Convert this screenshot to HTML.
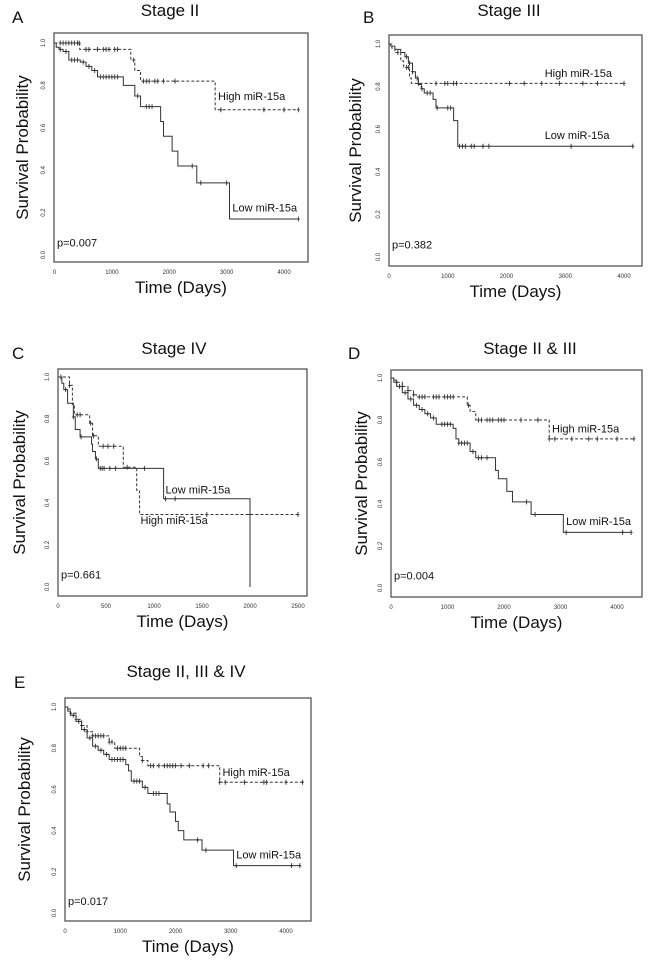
<!DOCTYPE html>
<html><head><meta charset="utf-8">
<style>
html,body{margin:0;padding:0;background:#fff;}
svg{display:block;font-family:"Liberation Sans",Arial,sans-serif;}
</style></head>
<body>
<svg id="fig" width="650" height="967" viewBox="0 0 650 967" xmlns="http://www.w3.org/2000/svg"></svg>
<script>
// ---- Panel A: Stage II ----
const A_high_t=[0,440,1330,1400,1500,2800,4250];
const A_high_s=[1,0.97,0.92,0.87,0.82,0.685,0.685];
const A_high_c=[100,150,200,250,300,350,400,430,550,600,750,850,900,950,1050,1100,1380,1550,1600,1650,1750,1800,1900,2100,2900,3650,4000,4250];
const A_low_t=[0,30,80,150,250,450,550,650,750,1200,1400,1500,1850,1900,2050,2150,2480,3050,4250];
const A_low_s=[1,0.98,0.97,0.96,0.92,0.91,0.89,0.87,0.84,0.80,0.75,0.70,0.63,0.56,0.49,0.42,0.34,0.17,0.17];
const A_low_c=[100,200,300,350,400,500,600,700,800,850,900,950,1000,1050,1100,1450,1600,1650,1700,2400,2550,3000,4250];
// ---- Panel B: Stage III ----
const B_high_t=[0,50,100,200,250,350,380,4000];
const B_high_s=[1,0.98,0.96,0.92,0.89,0.84,0.815,0.815];
const B_high_c=[150,300,330,500,800,950,1000,1100,1150,2050,2300,2600,2900,3300,3550,4000];
const B_low_t=[0,30,100,200,270,330,400,450,500,550,600,750,800,1100,1170,4150];
const B_low_s=[1,0.99,0.975,0.96,0.94,0.91,0.87,0.84,0.81,0.79,0.77,0.74,0.70,0.64,0.52,0.52];
const B_low_c=[300,350,400,480,560,650,700,820,1000,1050,1200,1250,1300,1400,1450,1600,1700,3100,4150];
// ---- Panel C: Stage IV ----
const C_high_t=[0,120,150,170,330,360,420,680,820,850,2500];
const C_high_s=[1,0.96,0.87,0.82,0.78,0.72,0.67,0.57,0.46,0.345,0.345];
const C_high_c=[120,200,230,340,370,470,520,580,720,1550,2000,2500];
const C_low_t=[0,40,60,100,160,180,230,350,360,390,420,1100,2000,2000];
const C_low_s=[1,0.97,0.94,0.875,0.81,0.75,0.715,0.68,0.645,0.61,0.565,0.42,0.0,0.0];
const C_low_c=[30,80,160,240,400,440,460,480,540,600,900,1120,1220];
// ---- Panel D: Stage II & III ----
const D_high_t=[0,50,100,200,300,400,450,1350,1400,1500,2800,4300];
const D_high_s=[1,0.99,0.98,0.96,0.94,0.92,0.91,0.87,0.84,0.80,0.71,0.71];
const D_high_c=[100,200,300,400,500,550,600,750,800,850,950,1000,1050,1100,1370,1550,1600,1700,1750,1800,1900,1950,2000,2300,2600,2800,2900,3200,3500,3650,4000,4300];
const D_low_t=[0,50,100,200,300,400,500,600,700,800,1100,1150,1200,1400,1500,1850,1900,2050,2150,2480,3050,4250];
const D_low_s=[1,0.98,0.96,0.93,0.90,0.87,0.85,0.83,0.81,0.78,0.76,0.71,0.69,0.65,0.62,0.56,0.52,0.46,0.41,0.35,0.265,0.265];
const D_low_c=[150,250,350,450,550,650,750,900,950,1000,1050,1200,1250,1300,1350,1450,1550,1600,1700,2400,2550,3100,4100,4250];
// ---- Panel E: Stage II, III & IV ----
const E_high_t=[0,50,100,200,300,400,500,800,900,1350,1400,1500,2800,4300];
const E_high_s=[1,0.99,0.97,0.94,0.91,0.88,0.86,0.83,0.80,0.76,0.74,0.715,0.635,0.635];
const E_high_c=[100,200,300,400,500,550,600,650,700,800,850,950,1000,1050,1100,1400,1550,1600,1700,1800,1850,1900,1950,2000,2100,2250,2500,2600,2800,2900,3250,3600,3650,4000,4300];
const E_low_t=[0,50,100,200,300,400,500,600,700,800,1100,1150,1200,1400,1500,1850,1900,2000,2050,2150,2480,3050,4250];
const E_low_s=[1,0.98,0.96,0.93,0.89,0.85,0.81,0.79,0.77,0.745,0.72,0.69,0.64,0.61,0.58,0.53,0.49,0.445,0.40,0.355,0.305,0.23,0.23];
const E_low_c=[150,250,350,450,550,650,750,850,900,950,1000,1050,1250,1300,1350,1450,1600,1650,1700,2400,2550,3100,4100,4250];
// tick labels
const xTicks4000=[0,1000,2000,3000,4000];
const xTicks2500=[0,500,1000,1500,2000,2500];
const yTicks=[0,0.2,0.4,0.6,0.8,1.0];

const NS="http://www.w3.org/2000/svg";
const svg=document.getElementById('fig');
function mk(tag,attrs,parent,text){const e=document.createElementNS(NS,tag);for(const k in attrs)e.setAttribute(k,attrs[k]);if(text!==undefined)e.textContent=text;(parent||svg).appendChild(e);return e;}

function stepAt(t,T,S){let s=S[0];for(let i=0;i<T.length;i++){if(T[i]<=t)s=S[i];}return s;}

function panel(p){
  const g=mk('g',{});
  
  
  const X=v=>p.x0+(v/p.xmaxTick)*(p.xTickEnd-p.x0);
  const Y=v=>p.y0+(p.y1-p.y0)*v;
  const fr=mk('rect',{x:p.bx1,y:p.by1,width:p.bx2-p.bx1,height:p.by2-p.by1,fill:'none',stroke:'#555','stroke-width':1.3},g);
  
  const lt=mk('text',{x:p.lx,y:p.ly,'font-size':17,fill:'#111'},g,p.id);
  
  const tt=mk('text',{x:p.tx,y:p.ty,'font-size':17,'text-anchor':'middle',fill:'#111'},g,p.title);
  
  const xt=mk('text',{x:(p.bx1+p.bx2)/2,y:p.by2+31,'font-size':17,'text-anchor':'middle',fill:'#111'},g,'Time (Days)');
  
  const yc=(p.by1+p.by2)/2;
  const yt=mk('text',{x:p.ylx,y:yc,'font-size':17,'text-anchor':'middle',fill:'#111',transform:`rotate(-90 ${p.ylx} ${yc})`},g,'Survival Probability');
  
  p.xticks.forEach(v=>{
    const t=mk('text',{x:X(v),y:p.by2+12,'font-size':6,'text-anchor':'middle',fill:'#333'},g,String(v));
    
  });
  yTicks.forEach(v=>{
    const yy=Y(v),xx=p.bx1-9;
    const t=mk('text',{x:xx,y:yy,'font-size':6,'text-anchor':'middle',fill:'#333',transform:`rotate(-90 ${xx} ${yy})`},g,v.toFixed(1));
    
  });
  function series(T,S,C,dash,name){
    let d=`M${X(T[0])},${Y(S[0])}`;
    for(let i=1;i<T.length;i++){d+=` H${X(T[i])} V${Y(S[i])}`;}
    const path=mk('path',{d:d,fill:'none',stroke:'#333','stroke-width':1,'stroke-dasharray':dash?'3,2':'none'},g);
    
    C.forEach(c=>{
      const s=stepAt(c,T,S);const cx=X(c),cy=Y(s);
      const m=mk('path',{d:`M${cx},${cy-2.5}V${cy+2.5}M${cx-1.5},${cy}H${cx+1.5}`,stroke:'#333','stroke-width':0.9},g);
      
    });
  }
  series(p.ht,p.hs,p.hc,true,'high-mir-15a');
  series(p.lt,p.ls,p.lc,false,'low-mir-15a');
  const hl=mk('text',{x:X(p.hlab[0]),y:Y(p.hlab[1]),'font-size':11,fill:'#111'},g,'High miR-15a');
  
  const ll=mk('text',{x:X(p.llab[0]),y:Y(p.llab[1]),'font-size':11,fill:'#111'},g,'Low miR-15a');
  
  const pv=mk('text',{x:p.bx1+3,y:Y(0.04),'font-size':11,fill:'#111'},g,p.pval);
  
}

panel({id:'A',title:'Stage II',lx:12,ly:23,tx:170,ty:16,ylx:28,bx1:54,bx2:308,by1:33,by2:262,x0:54.5,xTickEnd:284,xmaxTick:4000,y0:255,y1:43,xticks:xTicks4000,
  ht:A_high_t,hs:A_high_s,hc:A_high_c,lt:A_low_t,ls:A_low_s,lc:A_low_c,hlab:[2850,0.73],llab:[3100,0.205],pval:'p=0.007'});
panel({id:'B',title:'Stage III',lx:363,ly:23,tx:509,ty:16,ylx:361,bx1:389,bx2:642,by1:35,by2:266,x0:389,xTickEnd:624,xmaxTick:4000,y0:257,y1:44,xticks:xTicks4000,
  ht:B_high_t,hs:B_high_s,hc:B_high_c,lt:B_low_t,ls:B_low_s,lc:B_low_c,hlab:[2650,0.845],llab:[2650,0.555],pval:'p=0.382'});
panel({id:'C',title:'Stage IV',lx:12,ly:359,tx:174,ty:354,ylx:25,bx1:58,bx2:307,by1:369,by2:596,x0:58,xTickEnd:298,xmaxTick:2500,y0:587,y1:377,xticks:xTicks2500,
  ht:C_high_t,hs:C_high_s,hc:C_high_c,lt:C_low_t,ls:C_low_s,lc:C_low_c,hlab:[860,0.3],llab:[1120,0.445],pval:'p=0.661'});
panel({id:'D',title:'Stage II & III',lx:348,ly:359,tx:530,ty:354,ylx:367,bx1:391,bx2:642,by1:370,by2:597,x0:391,xTickEnd:617,xmaxTick:4000,y0:588,y1:378,xticks:xTicks4000,
  ht:D_high_t,hs:D_high_s,hc:D_high_c,lt:D_low_t,ls:D_low_s,lc:D_low_c,hlab:[2850,0.74],llab:[3100,0.3],pval:'p=0.004'});
panel({id:'E',title:'Stage II, III & IV',lx:14,ly:688,tx:186,ty:677,ylx:30,bx1:65,bx2:311,by1:698,by2:921,x0:65,xTickEnd:286,xmaxTick:4000,y0:913,y1:707,xticks:xTicks4000,
  ht:E_high_t,hs:E_high_s,hc:E_high_c,lt:E_low_t,ls:E_low_s,lc:E_low_c,hlab:[2850,0.665],llab:[3100,0.265],pval:'p=0.017'});
</script>
</body></html>
